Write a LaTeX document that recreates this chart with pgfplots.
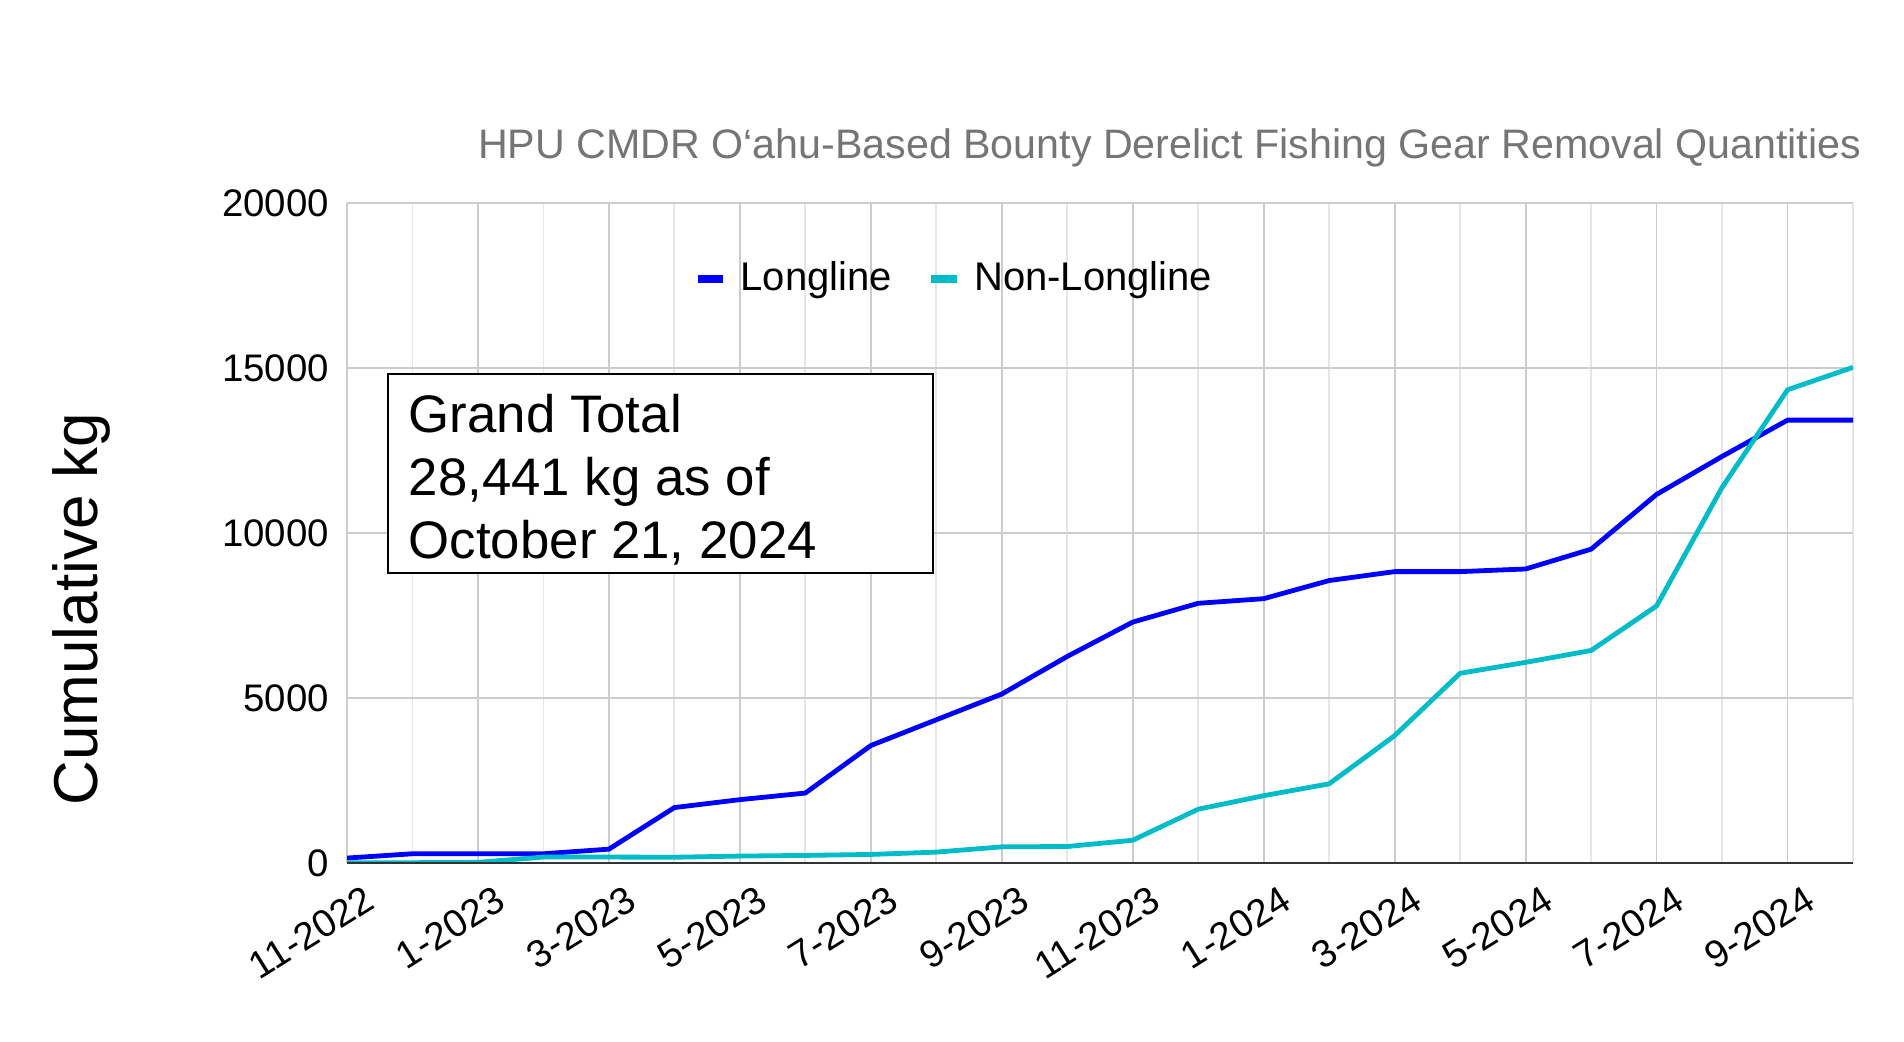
\documentclass[border=0pt]{standalone}
\usepackage{fontspec}
\setmainfont{Liberation Sans}
\usepackage{pgfplots}
\pgfplotsset{compat=1.18}

\definecolor{lineblue}{HTML}{0000FF}
\definecolor{linecyan}{HTML}{00BCC8}
\definecolor{titlegray}{HTML}{757575}
\definecolor{gridmaj}{HTML}{CCCCCC}
\definecolor{gridmin}{HTML}{E6E6E6}

\begin{document}
\begin{tikzpicture}
% 1 px of the 1904x1041 reference = 0.25pt
\useasboundingbox[fill=white] (0,0) rectangle (476pt,260.25pt);

\begin{axis}[
    at={(86.75pt,44.5pt)}, anchor=south west,
    scale only axis,
    width=376.5pt, height=165pt,
    xmin=0, xmax=23, ymin=0, ymax=20000,
    xtick={0,2,...,22},
    xticklabels={11-2022,1-2023,3-2023,5-2023,7-2023,9-2023,11-2023,1-2024,3-2024,5-2024,7-2024,9-2024},
    minor xtick={1,3,...,23},
    ytick={0,5000,10000,15000,20000},
    scaled y ticks=false,
    grid=both,
    major grid style={draw=gridmaj, line width=0.45pt},
    minor grid style={draw=gridmin, line width=0.45pt},
    major tick length=0pt, minor tick length=0pt,
    axis line style={draw=none},
    /pgf/number format/assume math mode=true,
    /pgf/number format/1000 sep={},
    tick label style={font=\fontsize{9.6}{11}\selectfont},
    yticklabel style={anchor=east, xshift=-1pt},
    xticklabel style={rotate=32, anchor=north east, xshift=4pt, yshift=-3pt},
    legend style={draw=none, fill=none, at={(0.222,0.885)}, anchor=west,
        font=\fontsize{10}{12}\selectfont, legend columns=2,
        /tikz/every even column/.append style={column sep=7pt}},
    legend image code/.code={\draw[#1, line width=1.8pt] (0pt,0pt) -- (6.3pt,0pt);},
    legend cell align=left,
]
\addplot[lineblue, line width=1.2pt] coordinates {
    (0,150) (1,280) (2,280) (3,280) (4,420) (5,1680) (6,1920) (7,2120)
    (8,3560) (9,4340) (10,5120) (11,6260) (12,7300) (13,7870) (14,8010)
    (15,8560) (16,8830) (17,8830) (18,8910) (19,9510) (20,11170)
    (21,12320) (22,13420) (23,13420)
};
\addlegendentry{\hspace{1.5pt}Longline}
\addplot[linecyan, line width=1.2pt] coordinates {
    (0,10) (1,10) (2,20) (3,180) (4,180) (5,175) (6,210) (7,230)
    (8,260) (9,330) (10,490) (11,500) (12,690) (13,1630) (14,2040)
    (15,2400) (16,3860) (17,5750) (18,6080) (19,6440) (20,7790)
    (21,11380) (22,14340) (23,15020)
};
\addlegendentry{\hspace{1.5pt}Non-Longline}
\draw[black!80, line width=0.6pt] (rel axis cs:0,0) -- (rel axis cs:1,0);
\end{axis}

% title
\node[anchor=base east, text=titlegray, font=\fontsize{10.3}{12}\selectfont, inner sep=0pt]
    at (465.5pt,220.5pt) {HPU CMDR O‘ahu-Based Bounty Derelict Fishing Gear Removal Quantities};

% y label
\node[rotate=90, font=\fontsize{15.5}{18}\selectfont, inner sep=0pt] at (20.25pt,108pt) {Cumulative kg};

% grand total box
\draw[black, line width=0.5pt, fill=white] (97pt,117pt) rectangle (233.25pt,166.75pt);
\node[anchor=base west, inner sep=0pt, font=\fontsize{13.2}{15.75}\selectfont] at (102pt,152.25pt) {Grand Total};
\node[anchor=base west, inner sep=0pt, font=\fontsize{13.2}{15.75}\selectfont] at (102pt,136.5pt) {28,441 kg as of};
\node[anchor=base west, inner sep=0pt, font=\fontsize{13.2}{15.75}\selectfont] at (102pt,120.75pt) {October 21, 2024};
\end{tikzpicture}
\end{document}
